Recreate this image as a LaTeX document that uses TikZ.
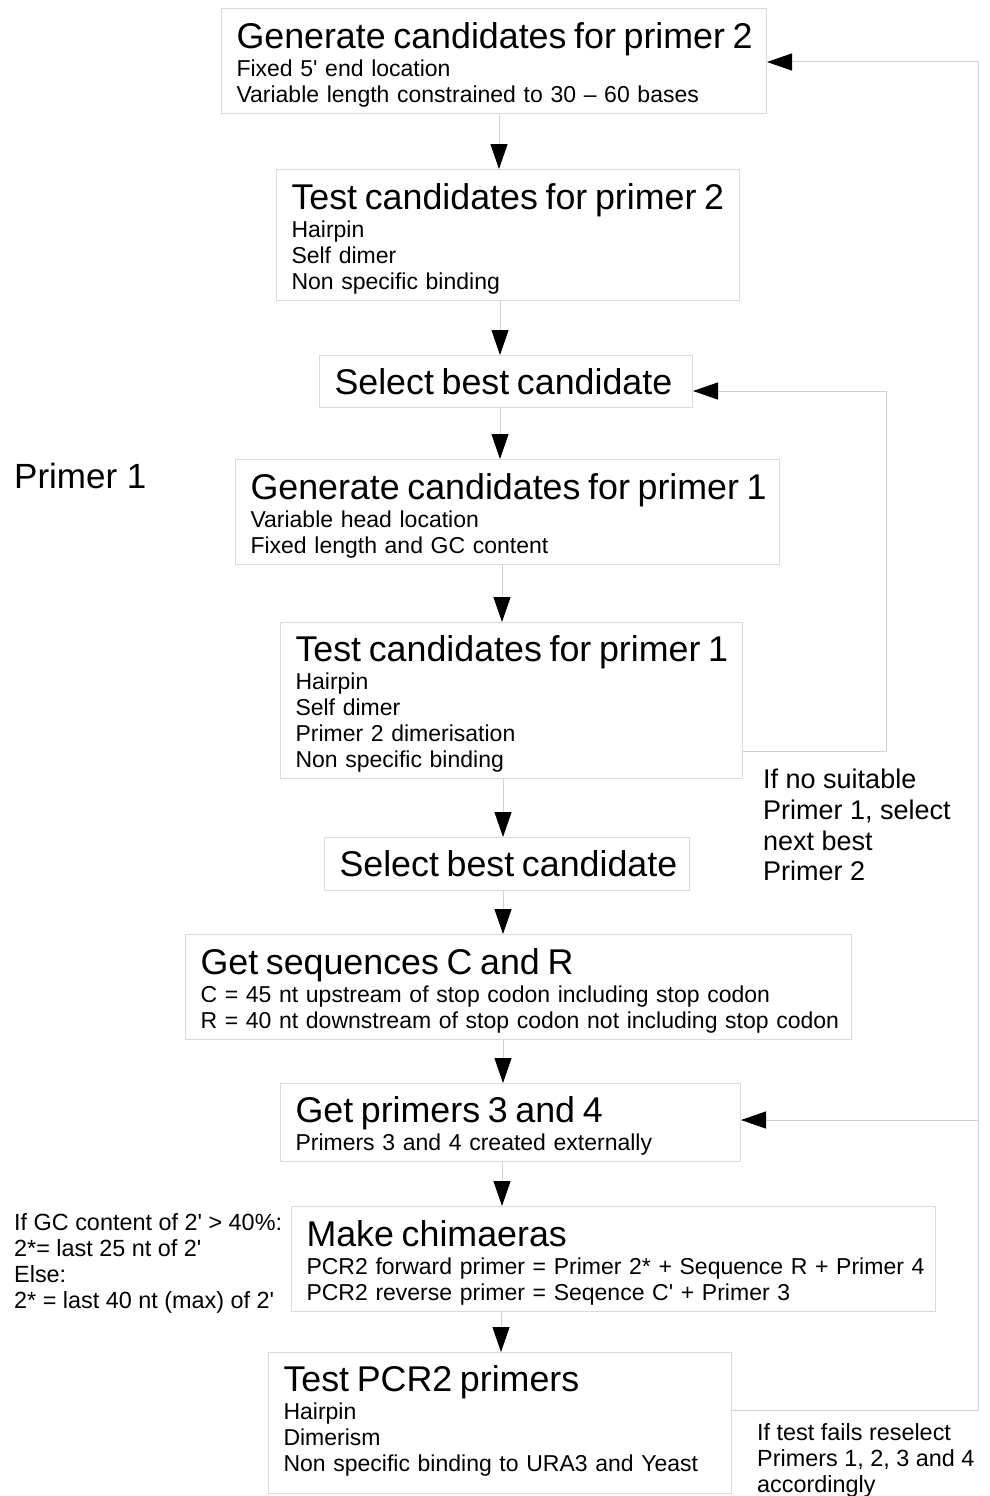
\documentclass[tikz,border=0pt]{standalone}
\usepackage{fontspec}
\newfontfamily\flowfont{Liberation Sans}
\usetikzlibrary{arrows.meta}

\definecolor{boxgray}{RGB}{218,218,218}
\definecolor{linegray}{RGB}{208,208,208}

\newcommand{\headsize}{\fontsize{35.8}{38}\selectfont}
\newcommand{\boxhead}[1]{\mbox{\headsize\rule{0pt}{33pt}#1}\\[2pt]}

\tikzset{
    stepbox/.style={draw=boxgray, line width=1pt, anchor=north west, align=left,
        inner xsep=15pt, inner ysep=0pt, font=\flowfont\fontsize{23}{26}\selectfont},
    flow/.style={draw=linegray, line width=1pt, -{Triangle[length=25pt,width=17pt,color=black]}},
    note/.style={anchor=north west, inner sep=0pt, align=left, font=\flowfont\fontsize{23.4}{26}\selectfont}
}

\begin{document}
\begin{tikzpicture}[x=1pt, y=-1pt]

    \useasboundingbox (0,0) rectangle (989,1496);

    % primer 2
    \node[stepbox, text width=515pt, minimum height=105pt] (gen2) at (221,8)
        {\boxhead{Generate candidates for primer 2}\mbox{Fixed 5' end location}\\\mbox{Variable length constrained to 30 – 60 bases}};
    \node[stepbox, text width=433pt, minimum height=131pt] (test2) at (276,169)
        {\boxhead{Test candidates for primer 2}\mbox{Hairpin}\\\mbox{Self dimer}\\\mbox{Non specific binding}};
    \node[stepbox, text width=343pt, minimum height=52pt] (sel2) at (319,355)
        {\mbox{\headsize Select best candidate}};

    % primer 1
    \node[note, font=\flowfont\fontsize{35}{38}\selectfont] (primerlabel) at (14,463) {Primer 1};
    \node[stepbox, text width=514pt, minimum height=105pt] (gen1) at (235,459)
        {\boxhead{Generate candidates for primer 1}\mbox{Variable head location}\\\mbox{Fixed length and GC content}};
    \node[stepbox, text width=432pt, minimum height=156pt] (test1) at (280,622)
        {\boxhead{Test candidates for primer 1}\mbox{Hairpin}\\\mbox{Self dimer}\\\mbox{Primer 2 dimerisation}\\\mbox{Non specific binding}};
    \node[stepbox, text width=335pt, minimum height=53pt] (sel1) at (324,837)
        {\mbox{\headsize Select best candidate}};
    \node[note, font=\flowfont\fontsize{27}{30.7}\selectfont] (nofitnote) at (763,769)
        {If no suitable\\Primer 1, select\\next best\\Primer 2};

    % sequences and chimaeras
    \node[stepbox, text width=636pt, minimum height=105pt] (getcr) at (185,934)
        {\boxhead{Get sequences C and R}\mbox{C = 45 nt upstream of stop codon including stop codon}\\\mbox{R = 40 nt downstream of stop codon not including stop codon}};
    \node[stepbox, text width=430pt, minimum height=78pt] (get34) at (280,1083)
        {\boxhead{Get primers 3 and 4}\mbox{Primers 3 and 4 created externally}};
    \node[stepbox, text width=614pt, minimum height=105pt] (chim) at (291,1206)
        {\boxhead{Make chimaeras}\mbox{PCR2 forward primer = Primer 2* + Sequence R + Primer 4}\\\mbox{PCR2 reverse primer = Seqence C' + Primer 3}};
    \node[note] (gcnote) at (14,1213)
        {If GC content of 2' > 40\%:\\2*= last 25 nt of 2'\\Else:\\2* = last 40 nt (max) of 2'};
    \node[stepbox, text width=433pt, minimum height=141pt] (testpcr) at (268,1352)
        {\boxhead{Test PCR2 primers}\mbox{Hairpin}\\\mbox{Dimerism}\\\mbox{Non specific binding to URA3 and Yeast}\rule[-17pt]{0pt}{17pt}};
    \node[note] (failnote) at (757,1423)
        {If test fails reselect\\Primers 1, 2, 3 and 4\\accordingly};

    % main flow
    \foreach \a/\b/\x in {gen2/test2/499, test2/sel2/500, sel2/gen1/500, gen1/test1/502,
        test1/sel1/503, sel1/getcr/503, getcr/get34/503, get34/chim/502, chim/testpcr/501}
        \draw[flow] (\a.south -| \x,0) -- (\b.north -| \x,0);

    % loop back to primer 2
    \coordinate (ia) at (886,751);
    \coordinate (ib) at (886,391);
    \draw[flow] (test1.east |- ia) -- (ia) -- (ib) -- (sel2.east |- ib);

    % loop back from the pcr2 test
    \coordinate (oa) at (978,1410);
    \coordinate (ob) at (978,62);
    \coordinate (oc) at (978,1120);
    \draw[flow] (testpcr.east |- oa) -- (oa) -- (ob) -- (gen2.east |- ob);
    \draw[flow] (oc) -- (get34.east |- oc);

\end{tikzpicture}
\end{document}
